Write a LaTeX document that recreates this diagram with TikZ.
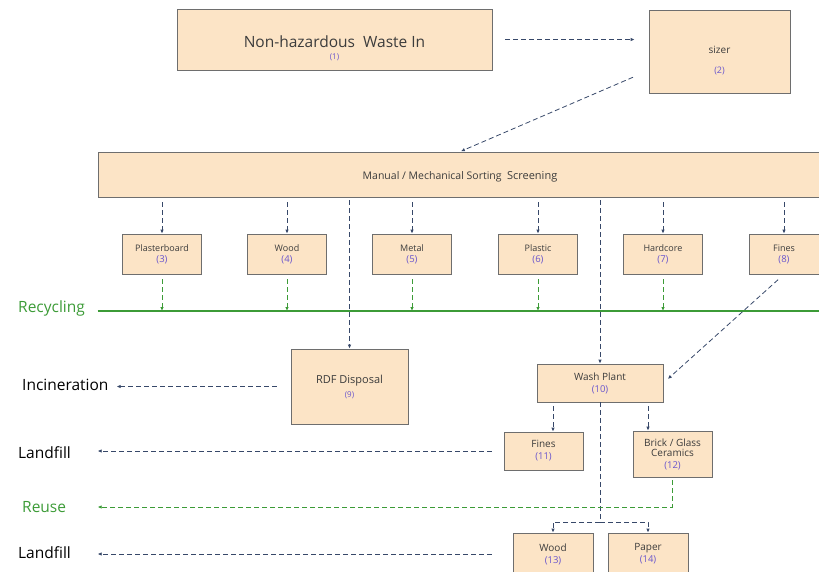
\documentclass[tikz,border=0pt]{standalone}
\usepackage{fontspec}
\setmainfont{Open Sans}
\usetikzlibrary{arrows.meta}
\definecolor{boxfill}{RGB}{252,228,198}
\definecolor{boxline}{RGB}{110,110,110}
\definecolor{flowblue}{RGB}{55,72,105}
\definecolor{numpurple}{RGB}{105,85,205}
\definecolor{recgreen}{RGB}{60,155,55}
\definecolor{labelgray}{RGB}{60,60,60}
\newcommand{\tagno}[2][9.5]{{\color{numpurple}\fontsize{#1}{11}\selectfont(#2)}}

\begin{document}
\begin{tikzpicture}[x=1pt, y=-1pt,
    stage/.style={rectangle, draw=boxline, fill=boxfill, line width=0.7pt,
        inner sep=0pt, align=center, text=labelgray, font=\fontsize{10}{12}\selectfont},
    sorted/.style={stage, minimum width=79pt, minimum height=40pt, font=\fontsize{9}{12}\selectfont},
    arrow/.style={-{Latex[length=4pt,width=3.5pt]}, flowblue, line width=0.8pt,
        dash pattern=on 5pt off 3pt},
    garrow/.style={arrow, recgreen},
    outlet/.style={anchor=west, inner sep=0pt, text=black, font=\fontsize{15.5}{18}\selectfont}
]
    \useasboundingbox (0,0) rectangle (819,571);

    \node[stage, minimum width=315pt, minimum height=61pt, font=\fontsize{15.5}{18}\selectfont] (waste) at (334.5,39.5) {\rule{0pt}{30pt}Non-hazardous\ \ Waste In\\[-6pt]\tagno[8]{1}};
    \node[stage, minimum width=141pt, minimum height=83pt] (sizer) at (719.5,51.5) {\rule{0pt}{26pt}sizer\\[8pt]\tagno[9]{2}};
    \node[stage, minimum width=724pt, minimum height=45pt, font=\fontsize{10.5}{12}\selectfont] (sort) at (460,174.5) {\rule{0pt}{12pt}Manual / Mechanical Sorting\ \ {\fontsize{11}{12}\selectfont Screening}};

    \node[sorted] (plaster) at (162,254) {Plasterboard\\[-1pt]\tagno{3}};
    \node[sorted] (wood) at (287,254) {Wood\\[-1pt]\tagno{4}};
    \node[sorted] (metal) at (412,254) {Metal\\[-1pt]\tagno{5}};
    \node[sorted] (plastic) at (538,254) {Plastic\\[-1pt]\tagno{6}};
    \node[sorted] (hardcore) at (663,254) {Hardcore\\[-1pt]\tagno{7}};
    \node[sorted, minimum width=70pt] (fines) at (784,254) {Fines\\[-1pt]\tagno{8}};

    \node[stage, minimum width=117pt, minimum height=75pt, font=\fontsize{11}{13}\selectfont] (rdf) at (349.5,386.5) {RDF Disposal\\[1pt]\tagno[8]{9}};
    \node[stage, minimum width=126pt, minimum height=38pt] (wash) at (600,383) {Wash Plant\\\tagno{10}};
    \node[stage, minimum width=79pt, minimum height=38pt] (fines11) at (543.5,451) {Fines\\\tagno{11}};
    \node[stage, minimum width=79pt, minimum height=46pt] (brick) at (672.5,454) {Brick / Glass\\[-2pt]Ceramics\\\tagno{12}};
    \node[stage, minimum width=80pt, minimum height=42pt] (wood13) at (553,554) {Wood\\\tagno{13}};
    \node[stage, minimum width=80pt, minimum height=42pt] (paper) at (648,554) {Paper\\\tagno{14}};

    \node[outlet, text=recgreen] (recycling) at (18,308) {Recycling};
    \node[outlet] (incin) at (22,385) {Incineration};
    \node[outlet] (landfill) at (18,453) {Landfill};
    \node[outlet, text=recgreen] (reuse) at (22,507) {Reuse};
    \node[outlet] (landfill2) at (18,553) {Landfill};
    \coordinate (recend) at (822,311);
    \coordinate (split) at (600,522);

    % top of the flow
    \draw[arrow, shorten <=13pt, shorten >=14pt] (waste.east) -- (sizer.west |- waste.east);
    \draw[arrow, shorten <=17pt, shorten >=1pt] (sizer.195) -- (sort.north);

    % sorted streams
    \draw[arrow, shorten <=5pt] (sort.south -| plaster) -- (plaster.north);
    \draw[arrow, shorten <=5pt] (sort.south -| wood) -- (wood.north);
    \draw[arrow, shorten <=5pt] (sort.south -| metal) -- (metal.north);
    \draw[arrow, shorten <=5pt] (sort.south -| plastic) -- (plastic.north);
    \draw[arrow, shorten <=5pt] (sort.south -| hardcore) -- (hardcore.north);
    \draw[arrow, shorten <=5pt] (sort.south -| fines) -- (fines.north);
    \draw[arrow, shorten <=3pt] (sort.south -| rdf) -- (rdf.north);
    \draw[arrow, shorten <=3pt] (sort.south -| wash) -- (wash.north);

    % recycling line
    \draw[recgreen, line width=1.1pt] (sort.west |- recend) -- (recend);
    \draw[garrow, shorten <=5pt] (plaster.south) -- (plaster |- recend);
    \draw[garrow, shorten <=5pt] (wood.south) -- (wood |- recend);
    \draw[garrow, shorten <=5pt] (metal.south) -- (metal |- recend);
    \draw[garrow, shorten <=5pt] (plastic.south) -- (plastic |- recend);
    \draw[garrow, shorten <=5pt] (hardcore.south) -- (hardcore |- recend);

    \draw[arrow, shorten <=8pt, shorten >=6pt] (fines.south) -- (wash.east);
    \draw[arrow, shorten <=14pt, shorten >=8pt] (rdf.west) -- (incin.east |- rdf.west);

    % wash plant outputs
    \draw[arrow, shorten <=4pt] (wash.south -| wood13) -- (fines11.north -| wood13);
    \draw[arrow, shorten <=4pt] (wash.south -| paper) -- (brick.north -| paper);
    \draw[arrow, -] (wash.south) -- (split);
    \draw[arrow] (split) -| (wood13.north);
    \draw[arrow] (split) -| (paper.north);
    \draw[garrow, shorten <=3pt] (brick.south) |- (sort.west |- reuse.east);
    \draw[arrow, shorten <=12pt] (fines11.west) -- (sort.west |- fines11.west);
    \draw[arrow, shorten <=21pt] (wood13.west) -- (sort.west |- wood13.west);
\end{tikzpicture}
\end{document}
